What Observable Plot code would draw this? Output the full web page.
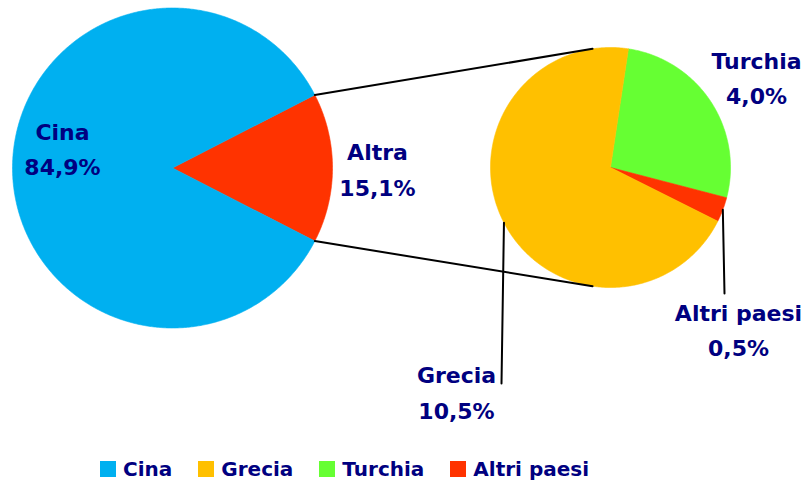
<!DOCTYPE html>
<html><head><meta charset="utf-8">
<script src="https://cdn.jsdelivr.net/npm/d3@7"></script>
<script src="https://cdn.jsdelivr.net/npm/@observablehq/plot@0.6"></script>
<style>
body{margin:0;background:#fff;font-family:"DejaVu Sans",sans-serif;}
#chart svg{display:block;}
#legend{display:flex;align-items:center;height:48px;padding-left:100px;font-weight:bold;font-size:20px;color:#000080;}
.item{display:flex;align-items:center;margin-right:26px;}
.sw{width:16px;height:16px;margin-right:7px;}
</style></head><body>
<div id="chart"></div><div id="legend"></div>
<script>
// ---- data ----
const mainCategories = ["Altra", "Cina"];
const mainValues = [15.1, 84.9];
const subCategories = ["Turchia", "Altri paesi", "Grecia"];
const subValues = [4.0, 0.5, 10.5];
const legendCategories = ["Cina", "Grecia", "Turchia", "Altri paesi"];

// ---- styles / layout ----
const colors = {"Cina": "#00B0F0", "Altra": "#FF3300", "Grecia": "#FFC000", "Turchia": "#66FF33", "Altri paesi": "#FF3300"};
const textColor = "#000080";
const W = 809, H = 445;
const L = {cx: 172, cy: 167.5, r: 160};
const R = {cx: 610, cy: 167, r: 120};
const subStart = 8.6 * Math.PI / 180;
const labelPos = {
  "Cina": {x: 62, y: 145.5},
  "Altra": {x: 377, y: 166},
  "Turchia": {x: 756, y: 74.5},
  "Altri paesi": {x: 738, y: 326.5},
  "Grecia": {x: 456, y: 389}
};
const leaderEnd = {"Grecia": {x: 501, y: 383}, "Altri paesi": {x: 724, y: 293}};

const fmt = v => d3.format(".1f")(v).replace(".", ",") + "%";
const pt = (c, a, r = c.r) => ({x: c.cx + r * Math.sin(a), y: c.cy - r * Math.cos(a)});

const mainTotal = d3.sum(mainValues);
const mainStartAngle = Math.PI / 2 - Math.PI * mainValues[0] / mainTotal;
const mainArcs = d3.pie().sort(null).startAngle(mainStartAngle).endAngle(mainStartAngle + 2 * Math.PI)
  (mainValues).map((a, i) => ({...a, key: mainCategories[i], c: L}));
const subArcs = d3.pie().sort(null).startAngle(subStart).endAngle(subStart + 2 * Math.PI)
  (subValues).map((a, i) => ({...a, key: subCategories[i], c: R}));

function polygon(arc) {
  const pts = [{x: arc.c.cx, y: arc.c.cy}];
  const n = Math.max(2, Math.ceil((arc.endAngle - arc.startAngle) / (Math.PI / 360)));
  for (let k = 0; k <= n; k++) pts.push(pt(arc.c, arc.startAngle + (arc.endAngle - arc.startAngle) * k / n));
  pts.push({x: arc.c.cx, y: arc.c.cy});
  return pts;
}

const allArcs = [...mainArcs, ...subArcs];
const sliceMarks = allArcs.map(a => Plot.line(polygon(a), {x: "x", y: "y", fill: colors[a.key], stroke: colors[a.key], strokeWidth: 0.6}));

// connector lines between pies
const altra = mainArcs[0];
const connectors = [
  {k: "top", ...pt(L, altra.startAngle)}, {k: "top", ...pt(R, -subStart)},
  {k: "bot", ...pt(L, altra.endAngle)}, {k: "bot", ...pt(R, Math.PI + subStart)}
];
// leader lines
const leaders = [];
subArcs.forEach(a => {
  if (leaderEnd[a.key]) {
    leaders.push({k: a.key, ...pt(R, (a.startAngle + a.endAngle) / 2)});
    leaders.push({k: a.key, ...leaderEnd[a.key]});
  }
});

const labels = allArcs.map(a => ({key: a.key, text: a.key + "\n" + fmt(a.data), ...labelPos[a.key]}));

const chart = Plot.plot({
  width: W, height: H, margin: 0,
  x: {domain: [0, W], range: [0, W], axis: null},
  y: {domain: [0, H], range: [0, H], axis: null},
  style: {fontFamily: "DejaVu Sans, sans-serif", background: "#fff"},
  marks: [
    ...sliceMarks,
    Plot.line(connectors, {x: "x", y: "y", z: "k", stroke: "#000", strokeWidth: 2}),
    Plot.line(leaders, {x: "x", y: "y", z: "k", stroke: "#000", strokeWidth: 2}),
    Plot.text(labels, {x: "x", y: "y", text: "text", fontSize: 22, fontWeight: "bold", fill: textColor, lineHeight: 1.62, textAnchor: "middle"})
  ]
});
document.getElementById("chart").appendChild(chart);

const leg = document.getElementById("legend");
legendCategories.forEach(c => {
  const it = document.createElement("div"); it.className = "item";
  const sw = document.createElement("div"); sw.className = "sw"; sw.style.background = colors[c];
  const tx = document.createElement("span"); tx.textContent = c;
  it.appendChild(sw); it.appendChild(tx); leg.appendChild(it);
});
</script>
</body></html>
